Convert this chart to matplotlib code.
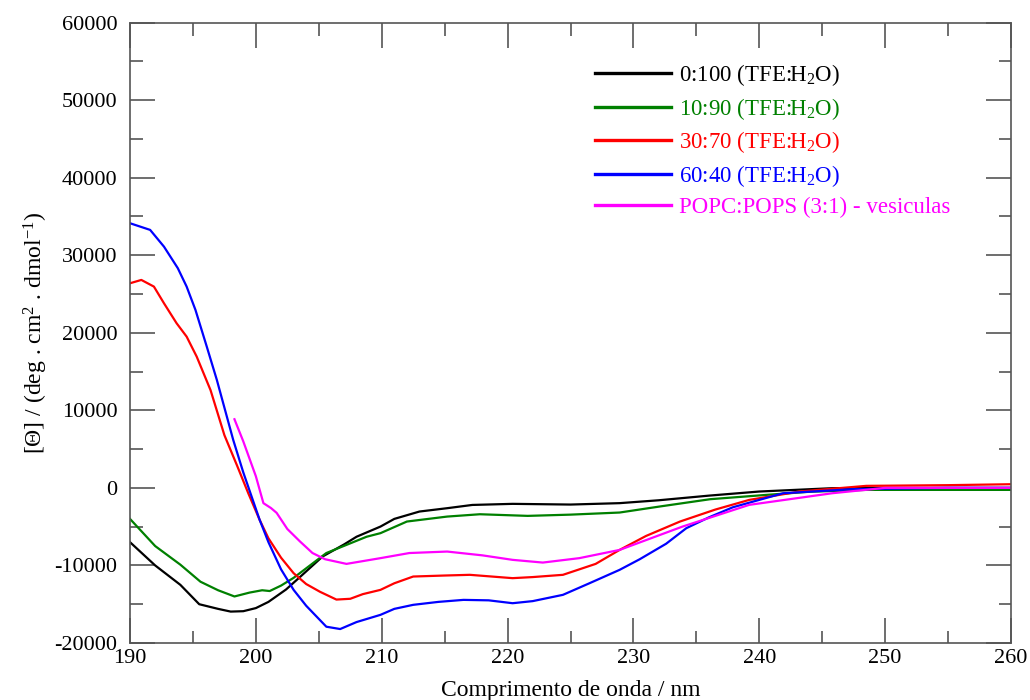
import numpy as np
import matplotlib
matplotlib.use("Agg")
from matplotlib import pyplot as plt
from matplotlib.ticker import MultipleLocator

plt.rcParams['font.family'] = ['Liberation Serif', 'DejaVu Serif']
plt.rcParams['mathtext.fontset'] = 'custom'
plt.rcParams['mathtext.rm'] = 'Liberation Serif'
plt.rcParams['mathtext.it'] = 'Liberation Serif:italic'
plt.rcParams['axes.unicode_minus'] = False

# CD spectra (wavelength nm, ellipticity)
wl_black = [190, 192, 194, 195.5, 197, 198, 199, 200, 201, 202.4, 203.5, 205.3, 207, 208, 209.9, 211, 213, 215.2, 217.2, 220.4, 225, 228.9, 232, 236, 240, 245.8, 250, 255, 260]
th_black = [-7000, -10000, -12500, -15000, -15600, -15950, -15900, -15500, -14700, -13100, -11500, -8850, -7300, -6300, -4990, -4000, -3050, -2620, -2200, -2060, -2150, -1970, -1600, -1000, -470, -40, 0, 0, 0]

wl_green = [190, 192, 194, 195.6, 197, 198.3, 199.5, 200.5, 201.1, 202, 203, 205.6, 208.8, 209.9, 212, 215.2, 217.8, 221.6, 225, 228.9, 232.1, 236.1, 240.6, 244, 248.5, 255, 260]
th_green = [-4000, -7500, -9900, -12100, -13200, -14000, -13500, -13200, -13300, -12600, -11600, -8400, -6300, -5840, -4340, -3700, -3400, -3610, -3450, -3180, -2400, -1460, -900, -500, -260, -260, -260]

wl_red = [190, 190.9, 191.9, 192.7, 193.7, 194.5, 195.3, 196.4, 197.5, 198.5, 199.4, 200.3, 201, 202, 203, 204, 205.1, 206.4, 207.5, 208.5, 209.9, 211, 212.5, 215, 217, 220.4, 222, 224.4, 227, 228.9, 231, 233.7, 236.5, 239.2, 243.2, 248.5, 255, 260]
th_red = [26380, 26810, 25950, 23800, 21230, 19500, 16920, 12600, 6800, 2900, -700, -4120, -6500, -9000, -11000, -12400, -13400, -14400, -14300, -13700, -13150, -12300, -11430, -11300, -11210, -11640, -11500, -11210, -9800, -8000, -6200, -4340, -2800, -1550, -470, 260, 350, 470]

wl_blue = [190, 191.6, 192.7, 193.8, 194.5, 195.2, 196.1, 196.9, 198.2, 199, 200.3, 201, 202, 203, 204, 205.6, 206.7, 208, 209.9, 211, 212.5, 214.5, 216.5, 218.5, 220.4, 222, 224.4, 226.5, 228.9, 230.5, 232.6, 234.2, 236, 237.9, 241.9, 247.4, 255, 260]
th_blue = [34120, 33260, 31100, 28320, 25950, 22950, 18210, 13920, 6190, 2000, -4120, -7000, -10500, -13150, -15200, -17900, -18200, -17300, -16370, -15600, -15080, -14700, -14440, -14500, -14870, -14600, -13790, -12300, -10570, -9200, -7200, -5200, -3800, -2500, -690, -170, 0, 0]

wl_mag = [198.3, 199, 200, 200.6, 201.2, 201.65, 202.5, 203.5, 204.5, 205.5, 207.2, 209.9, 212.2, 215.2, 218, 220.4, 222.8, 225.7, 228.9, 233.9, 239.2, 245.8, 250, 255, 260]
th_mag = [8850, 6000, 1500, -1970, -2600, -3220, -5300, -6900, -8400, -9200, -9800, -9060, -8400, -8210, -8700, -9280, -9630, -9060, -8000, -4990, -2190, -690, 0, 0, 0]

labels = ["0:100 (TFE:H$_\\mathregular{2}$O)", "10:90 (TFE:H$_\\mathregular{2}$O)",
          "30:70 (TFE:H$_\\mathregular{2}$O)", "60:40 (TFE:H$_\\mathregular{2}$O)",
          "POPC:POPS (3:1) - vesiculas"]
colors = ["black", "green", "red", "blue", "magenta"]
series = [(wl_black, th_black), (wl_green, th_green), (wl_red, th_red),
          (wl_blue, th_blue), (wl_mag, th_mag)]

fig = plt.figure(figsize=(10.3, 7), dpi=100)
ax = fig.add_axes([130 / 1030, 1 - 643 / 700, (1011 - 130) / 1030, (643 - 22.5) / 700])

for (x, y), c, lab in zip(series, colors, labels):
    ax.plot(x, y, color=c, lw=1.6, label=lab)

ax.set_xlim(190, 260)
ax.set_ylim(-20000, 60000)
ax.xaxis.set_major_locator(MultipleLocator(10))
ax.xaxis.set_minor_locator(MultipleLocator(5))
ax.yaxis.set_major_locator(MultipleLocator(10000))
ax.yaxis.set_minor_locator(MultipleLocator(5000))
ax.tick_params(which='both', direction='in', top=True, right=True, color='#555555', width=1.2,
               labelsize=16)
ax.tick_params(axis='y', pad=9)
ax.tick_params(axis='x', pad=4)
ax.tick_params(which='major', length=18)
ax.tick_params(which='minor', length=9)
for s in ax.spines.values():
    s.set_color('#555555')
    s.set_linewidth(1.2)

ax.set_xlabel("Comprimento de onda / nm", fontsize=17, labelpad=9)
ax.set_ylabel("[\u0398] / (deg . cm$^\\mathregular{2}$ . dmol$^\\mathregular{-1}$)", fontsize=17, labelpad=3)

leg = ax.legend(loc='upper left', bbox_to_anchor=((595 - 130) / 881, 1 - (62 - 22.5) / 620.5),
                frameon=False, fontsize=16.5, handlelength=3.3, handletextpad=0.35,
                labelspacing=0.34, borderaxespad=0, borderpad=0, labelcolor='linecolor')
for h in leg.legend_handles:
    h.set_linewidth(2.4)

fig.savefig("out.png", dpi=100)
